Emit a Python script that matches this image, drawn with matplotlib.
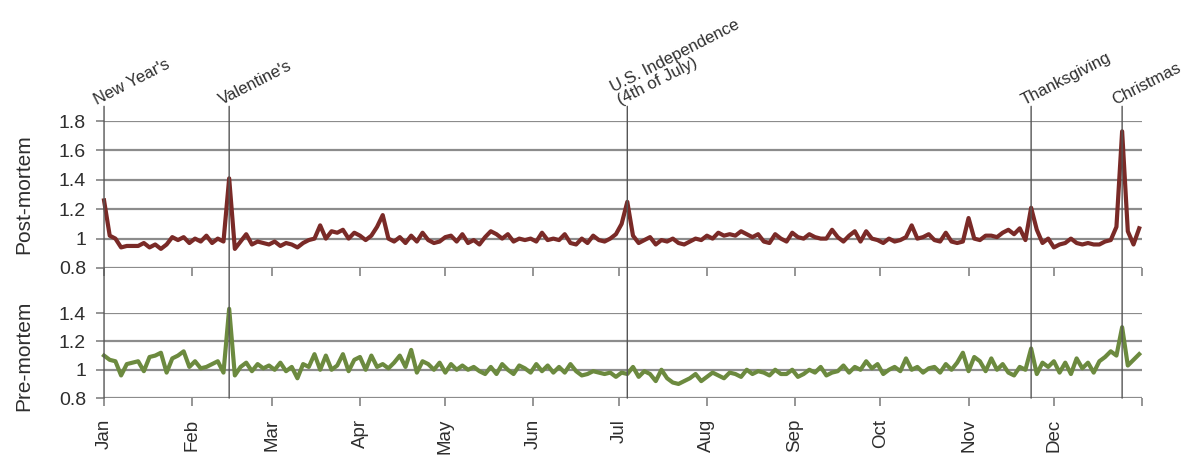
import matplotlib.pyplot as plt
import numpy as np
from matplotlib.patches import ConnectionPatch

# -----------------------------------------------------------------------------
# Datos (índice relativo diario, una muestra cada 2 días)
# -----------------------------------------------------------------------------
dias = np.arange(0, 365, 2)

post_mortem = [
    1.26, 1.02, 1.00, 0.94, 0.95, 0.95, 0.95, 0.97, 0.94, 0.96,
    0.93, 0.96, 1.01, 0.99, 1.01, 0.97, 1.00, 0.98, 1.02, 0.97,
    1.00, 0.98, 1.41, 0.93, 0.98, 1.03, 0.96, 0.98, 0.97, 0.96,
    0.98, 0.95, 0.97, 0.96, 0.94, 0.97, 0.99, 1.00, 1.09, 1.00,
    1.05, 1.04, 1.06, 1.00, 1.04, 1.02, 0.99, 1.02, 1.08, 1.16,
    1.00, 0.98, 1.01, 0.97, 1.02, 0.98, 1.04, 0.99, 0.97, 0.98,
    1.01, 1.02, 0.98, 1.03, 0.97, 0.99, 0.96, 1.01, 1.05, 1.03,
    1.00, 1.03, 0.98, 1.00, 0.99, 1.00, 0.98, 1.04, 0.99, 1.00,
    0.99, 1.03, 0.97, 0.96, 1.00, 0.97, 1.02, 0.99, 0.98, 1.00,
    1.03, 1.10, 1.25, 1.02, 0.97, 0.99, 1.01, 0.96, 0.99, 0.98,
    1.00, 0.97, 0.96, 0.98, 1.00, 0.99, 1.02, 1.00, 1.04, 1.02,
    1.03, 1.02, 1.05, 1.03, 1.01, 1.03, 0.98, 0.97, 1.03, 1.00,
    0.98, 1.04, 1.01, 1.00, 1.03, 1.01, 1.00, 1.00, 1.06, 1.01,
    0.98, 1.02, 1.05, 0.98, 1.05, 1.00, 0.99, 0.97, 1.00, 0.98,
    0.99, 1.01, 1.09, 1.00, 1.01, 1.03, 0.99, 0.98, 1.04, 0.98,
    0.97, 0.98, 1.14, 1.00, 0.99, 1.02, 1.02, 1.01, 1.04, 1.06,
    1.03, 1.07, 0.99, 1.21, 1.06, 0.97, 1.00, 0.94, 0.96, 0.97,
    1.00, 0.97, 0.96, 0.97, 0.96, 0.96, 0.98, 0.99, 1.08, 1.73,
    1.05, 0.96, 1.07,
]

pre_mortem = [
    1.10, 1.07, 1.06, 0.96, 1.04, 1.05, 1.06, 0.99, 1.09, 1.10,
    1.12, 0.98, 1.08, 1.10, 1.13, 1.02, 1.06, 1.01, 1.02, 1.04,
    1.06, 0.98, 1.43, 0.96, 1.02, 1.05, 0.99, 1.04, 1.01, 1.03,
    1.00, 1.05, 0.99, 1.02, 0.94, 1.04, 1.02, 1.11, 1.00, 1.10,
    1.00, 1.03, 1.11, 0.99, 1.07, 1.09, 1.00, 1.10, 1.02, 1.04,
    1.01, 1.05, 1.10, 1.02, 1.14, 0.98, 1.06, 1.04, 1.00, 1.05,
    0.98, 1.04, 1.00, 1.03, 1.00, 1.02, 0.99, 0.97, 1.02, 0.97,
    1.04, 1.00, 0.97, 1.03, 1.01, 0.98, 1.04, 0.99, 1.03, 0.98,
    1.02, 0.98, 1.04, 0.99, 0.96, 0.97, 0.99, 0.98, 0.97, 0.98,
    0.95, 0.98, 0.97, 1.02, 0.95, 0.99, 0.97, 0.92, 1.00, 0.94,
    0.91, 0.90, 0.92, 0.94, 0.97, 0.92, 0.95, 0.98, 0.96, 0.94,
    0.98, 0.97, 0.95, 1.00, 0.97, 0.99, 0.98, 0.96, 1.00, 0.97,
    0.97, 1.00, 0.95, 0.97, 1.00, 0.98, 1.02, 0.96, 0.98, 0.99,
    1.03, 0.98, 1.02, 1.00, 1.06, 1.01, 1.04, 0.97, 1.00, 1.02,
    0.99, 1.08, 1.00, 1.02, 0.98, 1.01, 1.02, 0.98, 1.04, 1.00,
    1.05, 1.12, 0.99, 1.09, 1.06, 0.99, 1.08, 1.00, 1.04, 0.98,
    0.96, 1.02, 1.00, 1.15, 0.97, 1.05, 1.02, 1.06, 0.98, 1.05,
    0.97, 1.08, 1.01, 1.05, 0.98, 1.06, 1.09, 1.13, 1.10, 1.30,
    1.03, 1.07, 1.11,
]

meses = ["Jan", "Feb", "Mar", "Apr", "May", "Jun",
         "Jul", "Aug", "Sep", "Oct", "Nov", "Dec"]
inicio_mes = [0, 31, 59, 90, 120, 151, 181, 212, 243, 273, 304, 334, 365]

feriados = ["New Year's", "Valentine's", "U.S. Independence\n(4th of July)",
            "Thanksgiving", "Christmas"]
dia_feriado = [0, 44, 184, 326, 358]

# -----------------------------------------------------------------------------
# Figura
# -----------------------------------------------------------------------------
plt.rcParams['font.family'] = ['Liberation Sans', 'DejaVu Sans']
color_texto = "#2e2e2e"
color_grid = "#8c8c8c"
color_linea = "#555555"

fig = plt.figure(figsize=(11.89, 4.55), dpi=100)
ax_top = fig.add_axes([0.0875, 0.411, 0.873, 0.323])
ax_bot = fig.add_axes([0.0875, 0.125, 0.873, 0.187])

paneles = [
    (ax_top, post_mortem, "#7a2a27", (0.8, 1.8), [0.8, 1.0, 1.2, 1.4, 1.6, 1.8],
     ["0.8", "1", "1.2", "1.4", "1.6", "1.8"], "Post-mortem"),
    (ax_bot, pre_mortem, "#6c8a3f", (0.8, 1.4), [0.8, 1.0, 1.2, 1.4],
     ["0.8", "1", "1.2", "1.4"], "Pre-mortem"),
]

for ax, serie, color, lim, yt, ylab, nombre in paneles:
    ax.plot(dias, serie, color=color, lw=3.0, clip_on=False, zorder=3,
            solid_joinstyle="round")
    ax.set_xlim(0, 365)
    ax.set_ylim(*lim)
    ax.set_yticks(yt)
    ax.set_yticklabels(ylab)
    ax.yaxis.grid(True, color=color_grid, lw=1.6)
    for s in ["top", "right", "left", "bottom"]:
        ax.spines[s].set_visible(False)
    ax.set_xticks(inicio_mes)
    ax.tick_params(axis="y", length=6, width=1.3, color=color_grid,
                   labelsize=14, labelcolor=color_texto, pad=7)
    ax.tick_params(axis="x", length=6, width=1.3, color=color_grid,
                   labelsize=13.5, labelcolor=color_texto, pad=9)
    ax.set_ylabel(nombre, fontsize=15, color=color_texto)
    ax.yaxis.set_label_coords(-0.068, 0.5)

ax_top.set_xticklabels([])
ax_bot.set_xticklabels(meses + [""], rotation=90)

# Líneas verticales de los feriados
for nombre, d in zip(feriados, dia_feriado):
    con = ConnectionPatch(xyA=(d, 0.8), coordsA=ax_bot.transData,
                          xyB=(d, 1.9), coordsB=ax_top.transData,
                          color=color_linea, lw=1.0, zorder=1)
    fig.add_artist(con)
    ax_top.text(d - 2, 1.89, nombre, rotation=27, rotation_mode="anchor",
                ha="left", va="bottom", fontsize=12, color=color_texto,
                linespacing=0.95, clip_on=False)

fig.savefig("out.png", dpi=100)
